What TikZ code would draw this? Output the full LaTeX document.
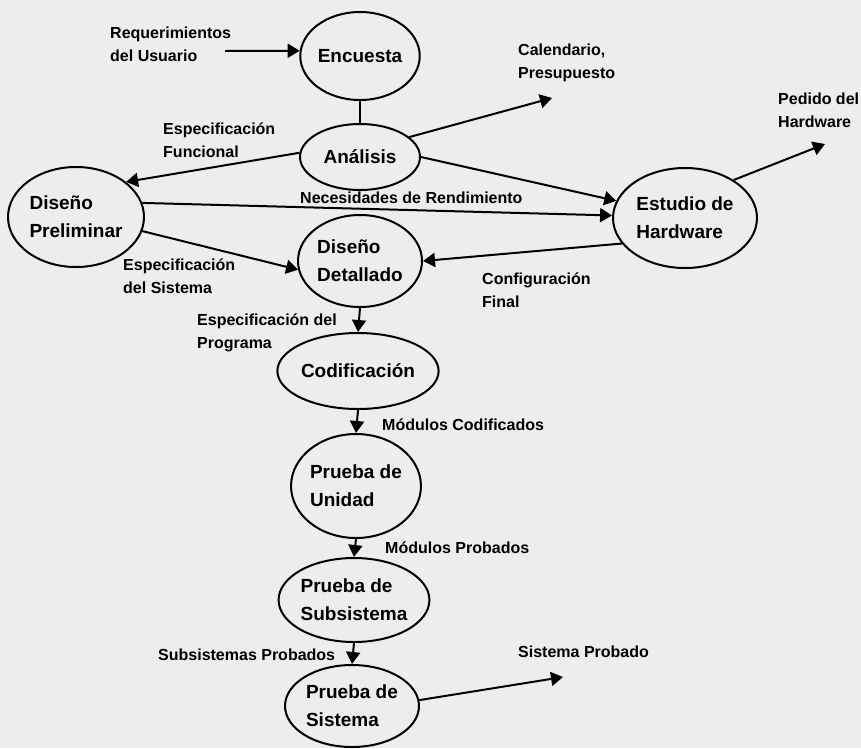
\documentclass[tikz,border=0pt]{standalone}
\usepackage{fontspec}
\setmainfont{Liberation Sans}
\usetikzlibrary{shapes.geometric,arrows.meta}
\begin{document}
\begin{tikzpicture}[x=1pt,y=-1pt,
  proc/.style={draw,ellipse,line width=2pt,inner sep=0pt,align=left,
    font=\fontsize{19}{28}\selectfont\bfseries},
  lbl/.style={anchor=base west,inner sep=0pt,align=left,
    font=\fontsize{16}{23}\selectfont\bfseries},
  flow/.style={line width=2pt,-{Triangle[length=12pt,width=14pt]}},
  link/.style={line width=2pt}]
\fill[black!7] (0,0) rectangle (861,748);
\useasboundingbox (0,0) rectangle (861,748);

% processes
\node[proc,minimum width=104pt,minimum height=88pt]  (enc)  at (360,56)  {Encuesta};
\node[proc,minimum width=120pt,minimum height=66pt]  (ana)  at (360,157) {Análisis};
\node[proc,minimum width=136pt,minimum height=100pt] (dpre) at (76,217)  {Diseño\\Preliminar};
\node[proc,minimum width=124pt,minimum height=92pt]  (ddet) at (360,261) {Diseño\\Detallado};
\node[proc,minimum width=144pt,minimum height=100pt] (hw)   at (685,218) {Estudio de\\Hardware};
\node[proc,minimum width=146pt,minimum height=76pt]  (cod)  at (358,371) {Codificación};
\node[proc,minimum width=126pt,minimum height=104pt] (pu)   at (356,486) {Prueba de\\Unidad};
\node[proc,minimum width=146pt,minimum height=84pt]  (ps)   at (354,600) {Prueba de\\Subsistema};
\node[proc,minimum width=134pt,minimum height=82pt]  (psis) at (352,706) {Prueba de\\Sistema};

% free ends of the outer flows
\coordinate (reqstart) at (225,51);
\coordinate (calend)   at (552,98);
\coordinate (pedend)   at (825,144);
\coordinate (sisend)   at (563,677);

% labels (anchored at the baseline of their last line)
\node[lbl] (lreq)  at (110,61)  {Requerimientos\\del Usuario};
\node[lbl] (lcal)  at (518,78)  {Calendario,\\Presupuesto};
\node[lbl] (lfun)  at (163,157) {Especificación\\Funcional};
\node[lbl] (lped)  at (778,127) {Pedido del\\Hardware};
\node[lbl] (lnec)  at (300,203) {Necesidades de Rendimiento};
\node[lbl] (lsis)  at (123,293) {Especificación\\del Sistema};
\node[lbl] (lconf) at (482,307) {Configuración\\Final};
\node[lbl] (lprog) at (197,348) {Especificación del\\Programa};
\node[lbl] (lmc)   at (382,430) {Módulos Codificados};
\node[lbl] (lmp)   at (385,553) {Módulos Probados};
\node[lbl] (lsp)   at (158,660) {Subsistemas Probados};
\node[lbl] (lsisp) at (518,657) {Sistema Probado};

% flows
\draw[flow] (reqstart) -- (enc.175);
\draw[link] (enc.south) -- (ana.north);
\draw[flow] (ana.22) -- (calend);
\draw[flow] (ana.176) -- (dpre.35);
\draw[flow] (ana.east) -- (hw.166);
\draw[flow] (dpre.12) -- (hw.178);
\draw[flow] (dpre.-12) -- (ddet.188);
\draw[flow] (hw.202) -- (ddet.east);
\draw[flow] (hw.38) -- (pedend);
\draw[flow] (ddet.south) -- (cod.north);
\draw[flow] (cod.south) -- (pu.north);
\draw[flow] (pu.south) -- (ps.north);
\draw[flow] (ps.south) -- (psis.north);
\draw[flow] (psis.5) -- (sisend);
\end{tikzpicture}
\end{document}
